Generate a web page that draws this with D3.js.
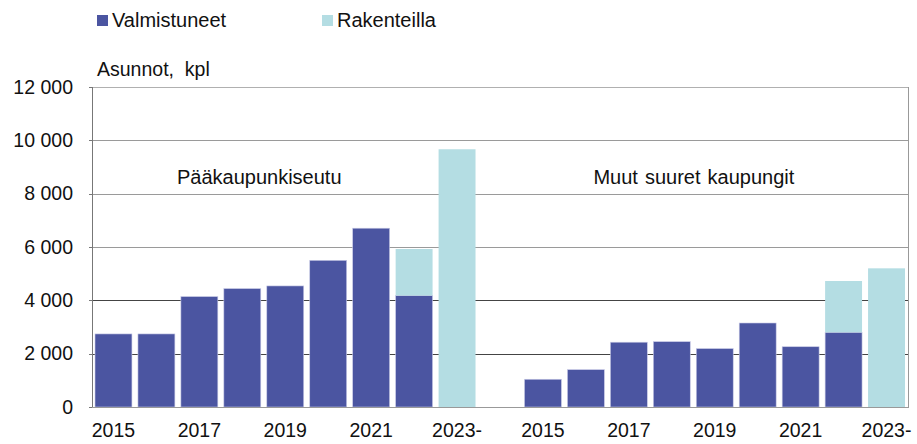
<!DOCTYPE html>
<html>
<head>
  <title>Asunnot</title>
  <style type="text/css">
    body { margin: 0; background: #fff; }
    svg text { font-family: "Liberation Sans", Arial, sans-serif; fill: #111; }
  </style>
</head>
<body>

<div id="chart"></div>

<script src="https://d3js.org/d3.v7.min.js"></script>
<script type="text/javascript">
// data
var years = ["2015", "2016", "2017", "2018", "2019", "2020", "2021", "2022", "2023-"];
var groups = ["Pääkaupunkiseutu", "Muut suuret kaupungit"];
var valmistuneetPK = [2740, 2740, 4140, 4440, 4540, 5500, 6705, 4180, 0];
var rakenteillaPK = [0, 0, 0, 0, 0, 0, 0, 1745, 9665];
var valmistuneetMuut = [1040, 1400, 2430, 2450, 2190, 3150, 2260, 2800, 0];
var rakenteillaMuut = [0, 0, 0, 0, 0, 0, 0, 1925, 5200];
var yTicks = [0, 2000, 4000, 6000, 8000, 10000, 12000];
var labelYears = ["2015", "2017", "2019", "2021", "2023-"];

var width = 917, height = 444;
var plotLeft = 92, plotRight = 908, plotTop = 87, plotBottom = 407;
var dark = "#4b55a1", light = "#b4dde3";

// 9 slots, one empty slot, 9 slots
var keys = years.map(y => "P" + y).concat(["gap"], years.map(y => "M" + y));
var x = d3.scaleBand().domain(keys).range([plotLeft, plotRight]).paddingInner(0.14).paddingOuter(0.07);
var y = d3.scaleLinear().domain([0, 12000]).range([plotBottom, plotTop]);

var fmt = d3.formatLocale({decimal: ",", thousands: " ", grouping: [3], currency: ["", ""]}).format(",");

var rows = [];
years.forEach((yr, i) => {
  rows.push({key: "P" + yr, year: yr, v: valmistuneetPK[i], r: rakenteillaPK[i]});
});
years.forEach((yr, i) => {
  rows.push({key: "M" + yr, year: yr, v: valmistuneetMuut[i], r: rakenteillaMuut[i]});
});

var svg = d3.select("#chart")
  .append("svg")
  .attr("width", width)
  .attr("height", height);

// gridlines
svg.append("g")
  .selectAll("line")
  .data(yTicks.filter(d => d > 0))
  .enter()
  .append("line")
    .attr("x1", plotLeft)
    .attr("x2", plotRight)
    .attr("y1", d => Math.round(y(d)) + 0.5)
    .attr("y2", d => Math.round(y(d)) + 0.5)
    .attr("stroke", d => d == 12000 ? "#b0b0b0" : d >= 6000 ? "#9a9a9a" : "#444")
    .attr("stroke-width", 1);

// right border
svg.append("line")
  .attr("x1", plotRight + 0.5).attr("x2", plotRight + 0.5)
  .attr("y1", y(12000)).attr("y2", y(0))
  .attr("stroke", "#999");

// bars
var bars = svg.append("g");
bars.selectAll("rect.valm")
  .data(rows.filter(d => d.v > 0))
  .enter()
  .append("rect")
    .attr("class", "valm")
    .attr("x", d => x(d.key))
    .attr("width", x.bandwidth())
    .attr("y", d => y(d.v))
    .attr("height", d => y(0) - y(d.v))
    .attr("fill", dark)
    .attr("stroke", "#c9cbe6")
    .attr("stroke-width", 0.6);

bars.selectAll("rect.rak")
  .data(rows.filter(d => d.r > 0))
  .enter()
  .append("rect")
    .attr("class", "rak")
    .attr("x", d => x(d.key))
    .attr("width", x.bandwidth())
    .attr("y", d => y(d.v + d.r))
    .attr("height", d => y(d.v) - y(d.v + d.r))
    .attr("fill", light);

// axes lines
svg.append("line")
  .attr("x1", plotLeft + 0.5).attr("x2", plotLeft + 0.5)
  .attr("y1", y(12000)).attr("y2", y(0))
  .attr("stroke", "#777");
svg.append("line")
  .attr("x1", plotLeft).attr("x2", plotRight + 1)
  .attr("y1", y(0) + 0.5).attr("y2", y(0) + 0.5)
  .attr("stroke", "#999");

// y ticks and labels
var yAxis = svg.append("g");
yAxis.selectAll("line")
  .data(yTicks)
  .enter()
  .append("line")
    .attr("x1", plotLeft - 3).attr("x2", plotLeft)
    .attr("y1", d => Math.round(y(d)) + 0.5).attr("y2", d => Math.round(y(d)) + 0.5)
    .attr("stroke", "#777");
yAxis.selectAll("text")
  .data(yTicks)
  .enter()
  .append("text")
    .attr("x", 73)
    .attr("y", d => y(d))
    .attr("dy", "0.35em")
    .attr("text-anchor", "end")
    .style("font-size", "19.5px")
    .text(d => fmt(d));

// x labels
svg.append("g")
  .selectAll("text")
  .data(rows.filter(d => labelYears.includes(d.year)))
  .enter()
  .append("text")
    .attr("x", d => x(d.key) + x.bandwidth() / 2)
    .attr("y", 437)
    .attr("text-anchor", "middle")
    .style("font-size", "19.5px")
    .text(d => d.year);

// group titles
svg.append("text")
  .attr("x", x("P2016") + 39)
  .attr("y", 184)
  .style("font-size", "20px")
  .text(groups[0]);
svg.append("text")
  .attr("x", x("M2016") + 26)
  .attr("y", 184)
  .style("font-size", "20px")
  .style("word-spacing", "1.5px")
  .text(groups[1]);

// unit label
svg.append("text")
  .attr("x", 97)
  .attr("y", 76)
  .style("font-size", "19.5px")
  .style("white-space", "pre")
  .text("Asunnot,  kpl");

// legend
var legend = [{name: "Valmistuneet", color: dark, x: 97}, {name: "Rakenteilla", color: light, x: 322}];
var lg = svg.append("g")
  .selectAll("g")
  .data(legend)
  .enter()
  .append("g")
    .attr("transform", d => "translate(" + d.x + ",0)");
lg.append("rect")
  .attr("x", 0).attr("y", 15)
  .attr("width", 11).attr("height", 11)
  .attr("fill", d => d.color);
lg.append("text")
  .attr("x", 15)
  .attr("y", 27)
  .style("font-size", "20px")
  .text(d => d.name);
</script>
</body>
</html>
